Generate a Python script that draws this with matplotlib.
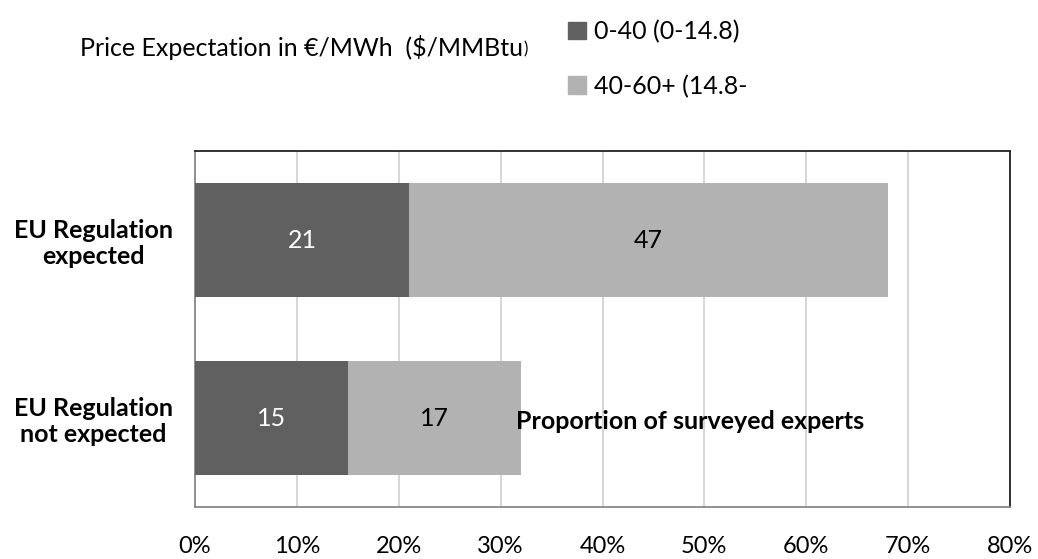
import matplotlib
matplotlib.use("Agg")
from matplotlib import pyplot as plt
from matplotlib.patches import Patch
import numpy as np

# survey shares (% of experts)
categories = ["EU Regulation\nnot expected", "EU Regulation\nexpected"]
low_price = [15, 21]
high_price = [17, 47]
series_names = ["0-40 (0-14.8)", "40-60+ (14.8-"]
xticks = [0, 10, 20, 30, 40, 50, 60, 70, 80]

dark = "#606060"
light = "#b2b2b2"

plt.rcParams['font.family'] = ['Lato', 'DejaVu Sans']

fig = plt.figure(figsize=(10.38, 5.59), dpi=100)
ax = fig.add_axes([195 / 1038, 52 / 559, 815 / 1038, 356 / 559])

y_pos = np.arange(len(categories))
b1 = ax.barh(y_pos, low_price, height=0.646, color=dark, zorder=3)
b2 = ax.barh(y_pos, high_price, left=low_price, height=0.646, color=light, zorder=3)
ax.bar_label(b1, label_type='center', color='white', fontsize=18)
ax.bar_label(b2, label_type='center', color='black', fontsize=18)

ax.set_xlim(0, 80)
ax.set_ylim(-0.5, 1.5)
ax.set_xticks(xticks)
ax.set_xticklabels([f"{t}%" for t in xticks], fontsize=17)
ax.set_yticks(y_pos)
ax.set_yticklabels(categories, fontsize=18, fontweight='bold', ha='center',
                   linespacing=1.15)
ax.tick_params(axis='y', length=0, pad=73)
ax.tick_params(axis='x', length=0, pad=21)
ax.grid(axis='x', color='#d0d0d0', linewidth=1.2, zorder=0)

ax.spines['left'].set_color('#888888')
ax.spines['bottom'].set_color('#888888')
ax.spines['top'].set_color('#222222')
ax.spines['right'].set_color('#222222')
for s in ax.spines.values():
    s.set_linewidth(1.3)

ax.text(0.394, 0.239, "Proportion of surveyed experts", transform=ax.transAxes,
        ha='left', va='center', fontsize=18, fontweight='bold', zorder=5)

# legend title with a small closing bracket as in the original
t = fig.text(80 / 1038, 1 - 48 / 559, "Price Expectation in \u20ac/MWh  ($/MMBtu",
             ha='left', va='center', fontsize=18)
ax.annotate(")", xy=(1, 0.12), xycoords=t, ha='left', va='bottom', fontsize=12)

handles = [Patch(color=dark), Patch(color=light)]
fig.legend(handles, series_names, loc='upper left',
           bbox_to_anchor=(548 / 1038, 1.0), frameon=False, borderpad=0.3,
           fontsize=18, handlelength=0.7, handleheight=0.7, handletextpad=0.35,
           labelspacing=1.25)

fig.savefig("out.png", dpi=100)
